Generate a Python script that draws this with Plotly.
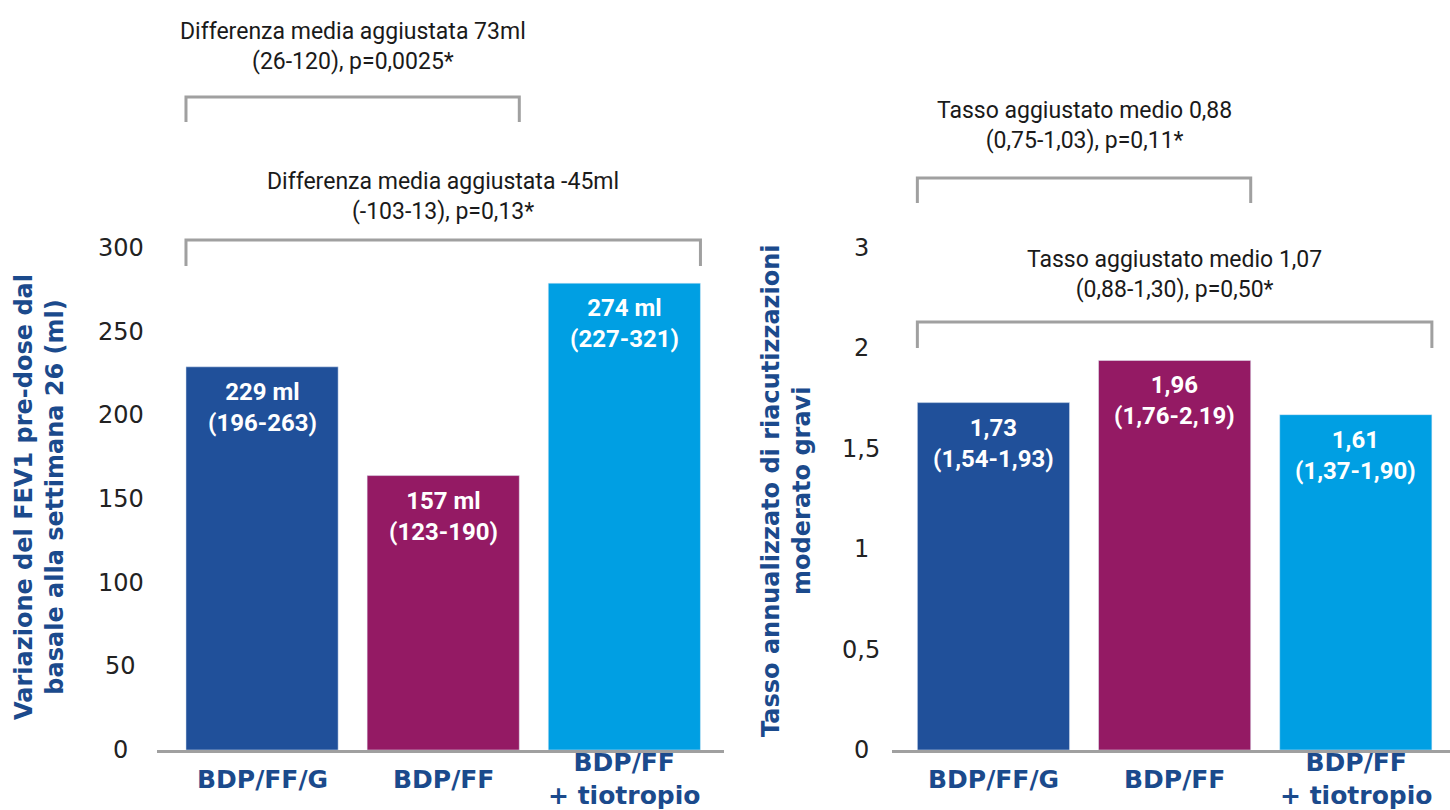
import plotly.graph_objects as go

# ---------------- data ----------------
categories = ["BDP/FF/G", "BDP/FF", "BDP/FF<br>+ tiotropio"]
colors = ["#20509A", "#941A64", "#009FE3"]

fev1_values = [229, 164, 279]            # bar heights as drawn
fev1_labels = ["229 ml<br>(196-263)", "157 ml<br>(123-190)", "274 ml<br>(227-321)"]

rate_values = [1.73, 1.94, 1.67]         # bar heights as drawn
rate_labels = ["1,73<br>(1,54-1,93)", "1,96<br>(1,76-2,19)", "1,61<br>(1,37-1,90)"]

fev1_tickvals = [0, 50, 100, 150, 200, 250, 300]
fev1_ticktext = ["0", "50", "100", "150", "200", "250", "300"]
rate_tickvals = [0, 0.5, 1, 1.5, 2, 2.5]
rate_ticktext = ["0", "0,5", "1", "1,5", "2", "3"]

fev1_comparisons = [
    (0, 1, "Differenza media aggiustata 73ml<br>(26-120), p=0,0025*"),
    (0, 2, "Differenza media aggiustata -45ml<br>(-103-13), p=0,13*"),
]
rate_comparisons = [
    (0, 1, "Tasso aggiustato medio 0,88<br>(0,75-1,03), p=0,11*"),
    (0, 2, "Tasso aggiustato medio 1,07<br>(0,88-1,30), p=0,50*"),
]

left_title = "Variazione del FEV1 pre-dose dal<br>basale alla settimana 26 (ml)"
right_title = "Tasso annualizzato di riacutizzazioni<br>moderato gravi"

# ---------------- styling ----------------
W, H = 1450, 810
TITLE_BLUE = "#1B4A8C"
GREY = "#A0A0A0"
TICK_FONT = dict(family="DejaVu Sans", size=24, color="#222222")
CAT_FONT = dict(family="DejaVu Sans", size=25, color=TITLE_BLUE, weight="bold")
BAR_FONT = dict(family="Roboto", size=24, color="white", weight="bold")
NOTE_FONT = dict(family="Roboto", size=23, color="#1a1a1a")
TITLE_FONT = dict(family="DejaVu Sans", size=24, color=TITLE_BLUE, weight="bold")
HALF_W = 0.42
xpos = list(range(len(categories)))


def py(pix):
    return (H - pix) / H


fig = go.Figure()
fig.add_trace(go.Bar(x=xpos, y=fev1_values, marker_color=colors, width=2 * HALF_W,
                     xaxis="x", yaxis="y", showlegend=False, hoverinfo="skip"))
fig.add_trace(go.Bar(x=xpos, y=rate_values, marker_color=colors, width=2 * HALF_W,
                     xaxis="x2", yaxis="y2", showlegend=False, hoverinfo="skip"))

ydom = [py(750), py(248)]
fig.update_layout(
    width=W, height=H,
    margin=dict(l=0, r=0, t=0, b=0),
    paper_bgcolor="white", plot_bgcolor="white",
    xaxis=dict(domain=[157 / W, 724 / W], range=[-0.58, 2.55], showticklabels=False,
               showgrid=False, zeroline=False, showline=True, linecolor=GREY, linewidth=3,
               ticks=""),
    yaxis=dict(domain=ydom, range=[0, 300], showticklabels=False, showgrid=False,
               zeroline=False, showline=False, tickvals=fev1_tickvals),
    xaxis2=dict(domain=[892 / W, 1.0], range=[-0.56, 2.52], showticklabels=False,
                showgrid=False, zeroline=False, showline=True, linecolor=GREY, linewidth=3,
                ticks="", anchor="y2"),
    yaxis2=dict(domain=ydom, range=[0, 2.5], showticklabels=False, showgrid=False,
                zeroline=False, showline=False, anchor="x2", tickvals=rate_tickvals),
)

ann = []
shapes = []

# tick labels (centered, as in the reference)
for v, t in zip(fev1_tickvals, fev1_ticktext):
    ann.append(dict(x=121 / W, xref="paper", y=v, yref="y", text=t, showarrow=False,
                    xanchor="center", yanchor="middle", font=TICK_FONT))
for v, t in zip(rate_tickvals, rate_ticktext):
    ann.append(dict(x=861 / W, xref="paper", y=v, yref="y2", text=t, showarrow=False,
                    xanchor="center", yanchor="middle", font=TICK_FONT))

# category labels and in-bar labels
for xr, yr, vals, labs in (("x", "y", fev1_values, fev1_labels),
                           ("x2", "y2", rate_values, rate_labels)):
    for i, c in enumerate(categories):
        ann.append(dict(x=i, xref=xr, y=py(779), yref="paper", text=c, showarrow=False,
                        xanchor="center", yanchor="middle", font=CAT_FONT))
        ann.append(dict(x=i, xref=xr, y=vals[i], yref=yr, text=labs[i], showarrow=False,
                        xanchor="center", yanchor="top", yshift=-9, font=BAR_FONT))

# brackets + comparison notes
bracket_px = {("x", 0): (97, 122, 46), ("x", 1): (240, 266, 196),
              ("x2", 0): (178, 203, 125), ("x2", 1): (322, 348, 274)}
for xr, comps in (("x", fev1_comparisons), ("x2", rate_comparisons)):
    for k, (a, b, txt) in enumerate(comps):
        top, bot, mid = bracket_px[(xr, k)]
        x0, x1 = a - HALF_W, b + HALF_W
        shapes.append(dict(type="path", xref=xr, yref="paper",
                           path=f"M {x0},{py(bot)} L {x0},{py(top)} L {x1},{py(top)} L {x1},{py(bot)}",
                           line=dict(color=GREY, width=3)))
        ann.append(dict(x=(x0 + x1) / 2, xref=xr, y=py(mid), yref="paper", text=txt,
                        showarrow=False, xanchor="center", yanchor="middle", font=NOTE_FONT))

# axis titles
ann.append(dict(x=39 / W, xref="paper", y=py(497), yref="paper", text=left_title,
                textangle=-90, showarrow=False, xanchor="center", yanchor="middle",
                font=TITLE_FONT))
ann.append(dict(x=786 / W, xref="paper", y=py(491), yref="paper", text=right_title,
                textangle=-90, showarrow=False, xanchor="center", yanchor="middle",
                font=TITLE_FONT))

fig.update_layout(annotations=ann, shapes=shapes)
fig.write_html("out.html")
